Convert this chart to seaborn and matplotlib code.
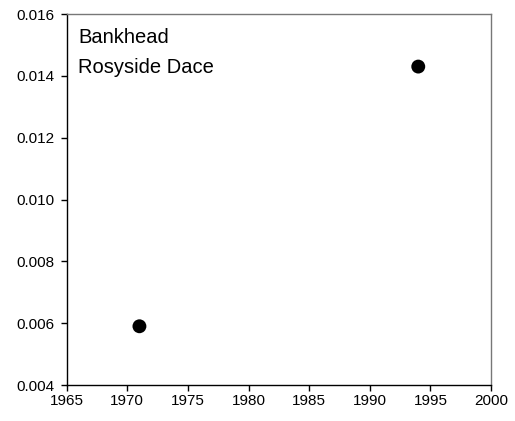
import matplotlib
matplotlib.use("Agg")
import matplotlib.pyplot as plt
import seaborn as sns
import pandas as pd

years = [1971, 1994]
values = [0.0059, 0.0143]
x_ticks = [1965, 1970, 1975, 1980, 1985, 1990, 1995, 2000]
y_ticks = [0.004, 0.006, 0.008, 0.010, 0.012, 0.014, 0.016]
site = "Bankhead"
species = "Rosyside Dace"

sns.set_style("white")
plt.rcParams["font.family"] = ["Liberation Sans", "DejaVu Sans"]

df = pd.DataFrame({"year": years, "value": values})

fig = plt.figure(figsize=(5.15, 4.21), dpi=100)
ax = fig.add_axes([0.1295, 0.0855, 0.8239, 0.8812])

sns.scatterplot(data=df, x="year", y="value", ax=ax, color="black",
                s=100, edgecolor="none", legend=False, zorder=3)

ax.set_xlim(1965, 2000)
ax.set_ylim(0.004, 0.016)
ax.set_xticks(x_ticks)
ax.set_yticks(y_ticks)
ax.set_xticklabels([str(t) for t in x_ticks])
ax.set_yticklabels([f"{t:.3f}" for t in y_ticks])
ax.set_xlabel("")
ax.set_ylabel("")

for side in ["left", "bottom"]:
    ax.spines[side].set_color("black")
    ax.spines[side].set_linewidth(1.0)
for side in ["top", "right"]:
    ax.spines[side].set_color("#777777")
    ax.spines[side].set_linewidth(1.0)

ax.tick_params(axis="both", which="major", direction="out", length=4.5,
               width=1, color="black", labelsize=11, labelcolor="black")
ax.tick_params(axis="x", pad=2)
ax.tick_params(axis="y", pad=4)
ax.tick_params(left=True, bottom=True, top=False, right=False)

ax.text(0.027, 0.921, site, transform=ax.transAxes, fontsize=14.5,
        ha="left", va="baseline", color="black")
ax.text(0.027, 0.840, species, transform=ax.transAxes, fontsize=14.5,
        ha="left", va="baseline", color="black")

fig.savefig("out.png", dpi=100, facecolor="white")
